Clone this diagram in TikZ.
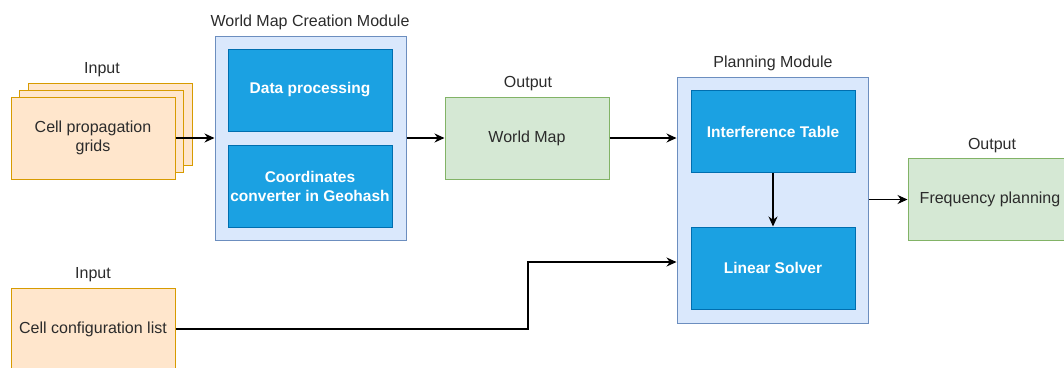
\documentclass[tikz,border=0pt]{standalone}
\usepackage{fontspec}
\setmainfont{Liberation Sans}
\usetikzlibrary{arrows.meta}
\definecolor{orfill}{HTML}{FFE6CC}
\definecolor{ordraw}{HTML}{D79B00}
\definecolor{grfill}{HTML}{D5E8D4}
\definecolor{grdraw}{HTML}{82B366}
\definecolor{mfill}{HTML}{DAE8FC}
\definecolor{mdraw}{HTML}{6C8EBF}
\definecolor{bfill}{HTML}{1BA1E2}
\definecolor{bdraw}{HTML}{006EAF}
\definecolor{txt}{HTML}{2B2B2B}
\tikzset{
  x=1pt, y=-1pt,
  base/.style={inner sep=0pt, align=center, line width=1pt, text=txt, font=\fontsize{16}{18.5}\selectfont},
  inbox/.style={base, draw=ordraw, fill=orfill, minimum width=164pt, minimum height=82pt},
  outbox/.style={base, draw=grdraw, fill=grfill, minimum width=164pt, minimum height=82pt},
  modbox/.style={base, draw=mdraw, fill=mfill, minimum width=191pt},
  stepbox/.style={base, draw=bdraw, fill=bfill, minimum width=164pt, minimum height=82pt, text=white, font=\fontsize{15.5}{19}\selectfont\bfseries},
  lbl/.style={inner sep=0pt, text=txt, font=\fontsize{16}{18.5}\selectfont},
  arr/.style={-{Stealth[length=10pt,width=9pt]}, line width=1.2pt, black}
}
\begin{document}
\begin{tikzpicture}
\useasboundingbox (0,0) rectangle (1064,367);
\fill[white] (0,0) rectangle (1064,367);
% input stack
\node[inbox] (cpg3) at (110,124) {};
\node[inbox] (cpg2) at (101.5,131) {};
\node[inbox] (cpg) at (93,138) {Cell propagation\\grids};
\node[lbl] (in1) at (102,70) {Input};
% world map creation module
\node[modbox, minimum height=204pt] (wmc) at (310.5,138) {};
\node[lbl] (wmct) at (310,22) {World Map Creation Module};
\node[stepbox] (dp) at (310,90) {Data processing};
\node[stepbox] (cc) at (310,186) {Coordinates\\converter in Geohash};
% world map
\node[outbox] (wm) at (527,138) {World Map};
\node[lbl] (out1) at (528,84) {Output};
% planning module
\node[modbox, minimum height=246pt] (pm) at (772.5,200) {};
\node[lbl] (pmt) at (773,63) {Planning Module};
\node[stepbox] (it) at (773,131.5) {Interference Table};
\node[stepbox] (ls) at (773,268) {Linear Solver};
% frequency planning
\node[outbox] (fp) at (990,199.5) {Frequency planning};
\node[lbl] (out2) at (992,146) {Output};
% cell configuration list
\node[inbox] (ccl) at (93,329) {Cell configuration list};
\node[lbl] (in2) at (93,275) {Input};
% connectors
\draw[arr] (cpg.east) -- (wmc.west |- cpg.east);
\draw[arr] (wmc.east |- wm.west) -- (wm.west);
\draw[arr] (wm.east) -- (pm.west |- wm.east);
\draw[arr] (it.south) -- (ls.north);
\draw[arr] (pm.east |- fp.west) -- (fp.west);
\coordinate (bend) at (528,262);
\draw[arr] (ccl.east) -| (bend) -- (pm.west |- bend);
\end{tikzpicture}
\end{document}
